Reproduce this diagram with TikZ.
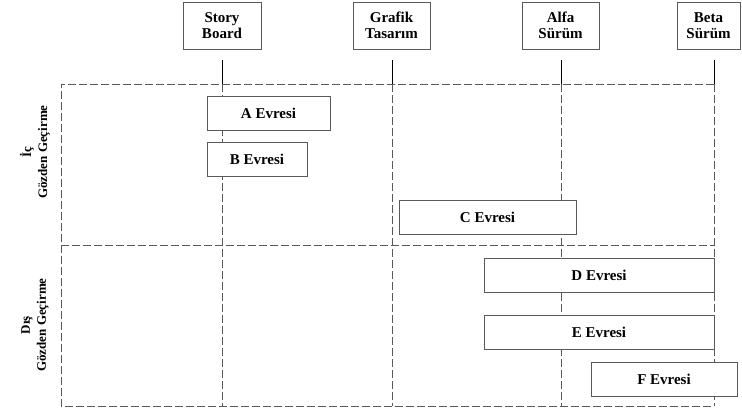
\documentclass[tikz,border=0pt]{standalone}
\usepackage{fontspec}
\setmainfont{Liberation Serif}
\usepackage{tikz}
\usetikzlibrary{positioning}
\definecolor{mgray}{rgb}{0.35, 0.35, 0.35}
\tikzset{surum/.style = {draw=mgray, fill=white, align=center, inner sep=0pt,
                         minimum height=47pt, font=\bfseries\fontsize{15}{16}\selectfont},
         evre/.style = {draw=mgray, fill=white, inner sep=0pt,
                        minimum height=34pt, font=\bfseries\fontsize{15}{16}\selectfont},
         kesik/.style = {mgray, dash pattern=on 8pt off 3pt},
         yan/.style = {rotate=90, align=center, font=\bfseries\fontsize{13}{16}\selectfont}}

\begin{document}
\begin{tikzpicture}[x=1pt, y=-1pt, line width=0.8pt]
      \useasboundingbox (0, 0) rectangle (742, 408);

      \foreach \x in {222, 392, 561, 714} {
        \draw (\x, 60) -- (\x, 84);
        \draw [kesik] (\x, 84) -- (\x, 406);
      }
      \draw [kesik] (714, 84) -- (61, 84) -- (61, 406) -- (714, 406);
      \draw [kesik] (61, 245) -- (714, 245);

      \node [surum, minimum width=78pt] (sb) at (222, 25.5) {Story\\Board};
      \node [surum, minimum width=77pt] (gt) at (391.5, 25.5) {Grafik\\Tasarım};
      \node [surum, minimum width=77pt] (as) at (560.5, 25.5) {Alfa\\Sürüm};
      \node [surum, minimum width=63pt] (bs) at (708.5, 25.5) {Beta\\Sürüm};

      \node [yan] (ic) at (35, 152) {İç\\Gözden Geçirme};
      \node [yan] (dis) at (35, 325) {Dış\\Gözden Geçirme};

      \node [evre, minimum width=123pt] (a) at (268.5, 113) {A Evresi};
      \node [evre, minimum width=100pt] (b) at (257, 159) {B Evresi};
      \node [evre, minimum width=177pt] (c) at (487.5, 217) {C Evresi};
      \node [evre, minimum width=230pt] (d) at (599, 275) {D Evresi};
      \node [evre, minimum width=230pt] (e) at (599, 332.5) {E Evresi};
      \node [evre, minimum width=146pt] (f) at (664, 379) {F Evresi};
    \end{tikzpicture}
\end{document}
